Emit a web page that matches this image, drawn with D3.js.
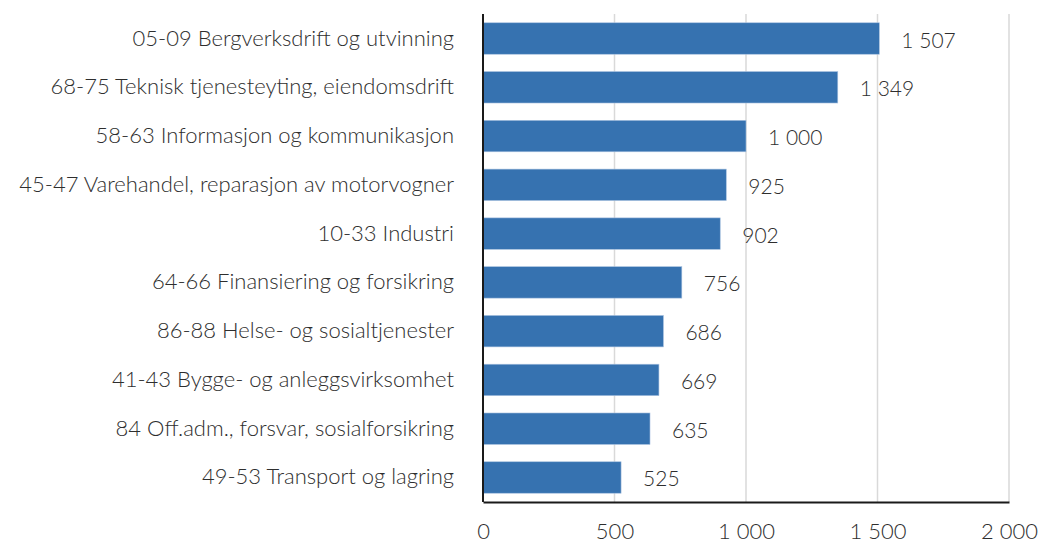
<!DOCTYPE html>
<html>
<head>
<meta charset="utf-8">
<script src="https://cdn.jsdelivr.net/npm/d3@7"></script>
<style>
  body { margin: 0; background: #fff; }
  svg text { font-family: Lato, "Open Sans", sans-serif; fill: #2e2e2e; font-weight: 300; }
</style>
</head>
<body>
<div id="chart"></div>
<script>
// categories, top to bottom
var categories = [
    "05-09 Bergverksdrift og utvinning",
    "68-75 Teknisk tjenesteyting, eiendomsdrift",
    "58-63 Informasjon og kommunikasjon",
    "45-47 Varehandel, reparasjon av motorvogner",
    "10-33 Industri",
    "64-66 Finansiering og forsikring",
    "86-88 Helse- og sosialtjenester",
    "41-43 Bygge- og anleggsvirksomhet",
    "84 Off.adm., forsvar, sosialforsikring",
    "49-53 Transport og lagring"
];
var values = [1507, 1349, 1000, 925, 902, 756, 686, 669, 635, 525];
var ticks = [0, 500, 1000, 1500, 2000];

var width = 1040, height = 545;
var margin = { left: 483, right: 31, top: 14, bottom: 43 };

// norwegian style thousands: "1 507"
var fmt = function (d) {
    return d3.format(",")(d).replace(/,/g, " ");
};

var svg = d3.select("#chart").append("svg")
    .attr("width", width)
    .attr("height", height);

var x = d3.scaleLinear()
    .domain([0, 2000])
    .range([margin.left, width - margin.right]);

var y = d3.scaleBand()
    .domain(categories)
    .range([margin.top, height - margin.bottom])
    .paddingInner(0.355)
    .paddingOuter(0.18);

// gridlines
svg.append("g").selectAll("line")
    .data(ticks.slice(1))
    .join("line")
    .attr("x1", d => x(d)).attr("x2", d => x(d))
    .attr("y1", margin.top).attr("y2", height - margin.bottom)
    .attr("stroke", "#d9d9d9")
    .attr("stroke-width", 1.5);

// bars
svg.append("g").selectAll("rect")
    .data(values)
    .join("rect")
    .attr("x", x(0))
    .attr("y", (d, i) => y(categories[i]))
    .attr("width", d => x(d) - x(0))
    .attr("height", y.bandwidth())
    .attr("fill", "#3672b0")
    .attr("stroke", "#a9c2e0")
    .attr("stroke-width", 0.6);

// value labels
svg.append("g").selectAll("text")
    .data(values)
    .join("text")
    .attr("x", d => x(d) + 22)
    .attr("y", (d, i) => y(categories[i]) + y.bandwidth() / 2 + 9)
    .attr("font-size", "21px")
    .text(d => fmt(d));

// category labels
svg.append("g").selectAll("text")
    .data(categories)
    .join("text")
    .attr("x", margin.left - 29)
    .attr("y", d => y(d) + y.bandwidth() / 2 + 7)
    .attr("text-anchor", "end")
    .attr("font-size", "22px")
    .text(d => d);

// axes
var xAxis = d3.axisBottom(x).tickValues(ticks).tickSize(0).tickPadding(21).tickFormat(fmt);
var gx = svg.append("g")
    .attr("transform", "translate(0," + (height - margin.bottom) + ")")
    .call(xAxis);
gx.select(".domain").attr("stroke", "#1a1a1a").attr("stroke-width", 2);
gx.selectAll("text").attr("font-size", "22px").attr("font-family", "Lato, 'Open Sans', sans-serif").attr("fill", "#2e2e2e");

svg.append("line")
    .attr("x1", x(0)).attr("x2", x(0))
    .attr("y1", margin.top).attr("y2", height - margin.bottom)
    .attr("stroke", "#1a1a1a")
    .attr("stroke-width", 2);
</script>
</body>
</html>
